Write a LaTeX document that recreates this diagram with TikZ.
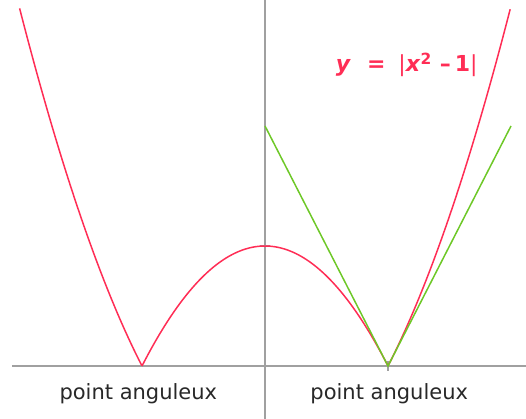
\documentclass[tikz,border=0pt]{standalone}
\usepackage{fontspec}
\setmainfont{DejaVu Sans}
\definecolor{kurvenrot}{RGB}{255,45,85}
\definecolor{tangentengruen}{RGB}{110,200,40}
\definecolor{achsengrau}{RGB}{160,160,160}
\tikzset{
  achse/.style={achsengrau, line width=1.4pt},
  kurve/.style={kurvenrot, line width=1.5pt, samples=120},
  tangente/.style={tangentengruen, line width=1.5pt},
  etikett/.style={text={rgb,255:red,40;green,40;blue,40}, font=\fontsize{21}{24}\selectfont, inner sep=0pt, anchor=base}
}
\begin{document}
\begin{tikzpicture}[x=123pt, y=120pt]
    \useasboundingbox (-265pt,-53pt) rectangle (261pt,366pt);
    % Achsen:
    \draw[achse] (-2.057,0) -- (2.13,0); % x-Achse
    \draw[achse] (0,-0.45) -- (0,3.06); % y-Achse
    \draw[achse] (-5pt,1) -- (5pt,1); % Strich bei y=1
    \draw[achse] (1,-5pt) -- (1,5pt); % Strich bei x=1
    % Kurve y=|x^2-1|:
    \draw[kurve, domain=-1.995:-1] plot (\x, {\x*\x-1});
    \draw[kurve, domain=-1:1] plot (\x, {1-\x*\x});
    \draw[kurve, domain=1:1.995] plot (\x, {\x*\x-1});
    % Halbtangenten:
    \draw[tangente] (0,2) -- (1,0) -- (2,2);
    % Beschriftung:
    \node[etikett] (links) at (-1.03,-0.283) {point anguleux};
    \node[etikett] (rechts) at (1.01,-0.283) {point anguleux};
    \node[kurvenrot, font=\fontsize{22}{24}\selectfont, inner sep=0pt, anchor=base west] (formel) at (0.575,2.45)
      {\textbf{\textit{y}}\hspace{16pt}\textbf{=}\hspace{13pt}|\textbf{\textit{x}}\textsuperscript{\textbf{2}}\hspace{8pt}\textbf{–}\hspace{4pt}\textbf{1}|};
\end{tikzpicture}
\end{document}
